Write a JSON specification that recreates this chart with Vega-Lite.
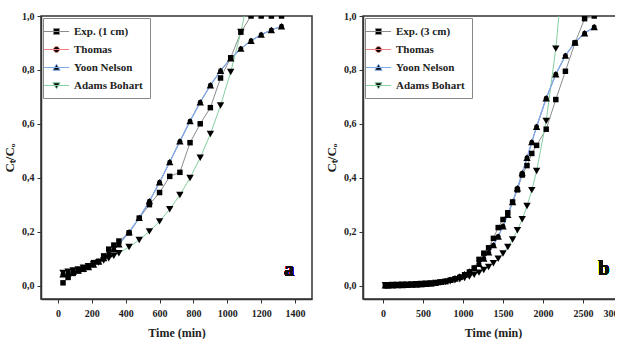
{
  "$schema": "https://vega.github.io/schema/vega-lite/v6.json",
  "background": "white",
  "padding": {"left": 2, "top": 10, "right": -10, "bottom": 0},
  "spacing": 11,
  "datasets": {
    "a": [
      {"t": 30, "v": 0.01, "s": "Exp. (1 cm)"}, {"t": 60, "v": 0.03, "s": "Exp. (1 cm)"}, {"t": 90, "v": 0.045, "s": "Exp. (1 cm)"}, {"t": 120, "v": 0.055, "s": "Exp. (1 cm)"}, {"t": 150, "v": 0.06, "s": "Exp. (1 cm)"}, {"t": 180, "v": 0.07, "s": "Exp. (1 cm)"}, {"t": 210, "v": 0.085, "s": "Exp. (1 cm)"}, {"t": 240, "v": 0.09, "s": "Exp. (1 cm)"}, {"t": 270, "v": 0.11, "s": "Exp. (1 cm)"}, {"t": 300, "v": 0.135, "s": "Exp. (1 cm)"}, {"t": 330, "v": 0.15, "s": "Exp. (1 cm)"}, {"t": 360, "v": 0.165, "s": "Exp. (1 cm)"}, {"t": 420, "v": 0.195, "s": "Exp. (1 cm)"}, {"t": 480, "v": 0.25, "s": "Exp. (1 cm)"}, {"t": 540, "v": 0.3, "s": "Exp. (1 cm)"}, {"t": 600, "v": 0.345, "s": "Exp. (1 cm)"}, {"t": 660, "v": 0.405, "s": "Exp. (1 cm)"}, {"t": 720, "v": 0.42, "s": "Exp. (1 cm)"}, {"t": 780, "v": 0.53, "s": "Exp. (1 cm)"}, {"t": 840, "v": 0.6, "s": "Exp. (1 cm)"}, {"t": 900, "v": 0.66, "s": "Exp. (1 cm)"}, {"t": 960, "v": 0.77, "s": "Exp. (1 cm)"}, {"t": 1020, "v": 0.845, "s": "Exp. (1 cm)"}, {"t": 1080, "v": 0.94, "s": "Exp. (1 cm)"}, {"t": 1140, "v": 1.0, "s": "Exp. (1 cm)"}, {"t": 1200, "v": 1.0, "s": "Exp. (1 cm)"}, {"t": 1260, "v": 1.0, "s": "Exp. (1 cm)"}, {"t": 1320, "v": 1.0, "s": "Exp. (1 cm)"},
      {"t": 30, "v": 0.042, "s": "Thomas"}, {"t": 60, "v": 0.046, "s": "Thomas"}, {"t": 90, "v": 0.051, "s": "Thomas"}, {"t": 120, "v": 0.056, "s": "Thomas"}, {"t": 150, "v": 0.062, "s": "Thomas"}, {"t": 180, "v": 0.069, "s": "Thomas"}, {"t": 210, "v": 0.078, "s": "Thomas"}, {"t": 240, "v": 0.089, "s": "Thomas"}, {"t": 270, "v": 0.102, "s": "Thomas"}, {"t": 300, "v": 0.117, "s": "Thomas"}, {"t": 330, "v": 0.134, "s": "Thomas"}, {"t": 360, "v": 0.153, "s": "Thomas"}, {"t": 420, "v": 0.198, "s": "Thomas"}, {"t": 480, "v": 0.251, "s": "Thomas"}, {"t": 540, "v": 0.313, "s": "Thomas"}, {"t": 600, "v": 0.383, "s": "Thomas"}, {"t": 660, "v": 0.458, "s": "Thomas"}, {"t": 720, "v": 0.535, "s": "Thomas"}, {"t": 780, "v": 0.61, "s": "Thomas"}, {"t": 840, "v": 0.68, "s": "Thomas"}, {"t": 900, "v": 0.743, "s": "Thomas"}, {"t": 960, "v": 0.797, "s": "Thomas"}, {"t": 1020, "v": 0.843, "s": "Thomas"}, {"t": 1080, "v": 0.879, "s": "Thomas"}, {"t": 1140, "v": 0.908, "s": "Thomas"}, {"t": 1200, "v": 0.931, "s": "Thomas"}, {"t": 1260, "v": 0.948, "s": "Thomas"}, {"t": 1320, "v": 0.962, "s": "Thomas"},
      {"t": 30, "v": 0.042, "s": "Yoon Nelson"}, {"t": 60, "v": 0.046, "s": "Yoon Nelson"}, {"t": 90, "v": 0.051, "s": "Yoon Nelson"}, {"t": 120, "v": 0.056, "s": "Yoon Nelson"}, {"t": 150, "v": 0.062, "s": "Yoon Nelson"}, {"t": 180, "v": 0.069, "s": "Yoon Nelson"}, {"t": 210, "v": 0.078, "s": "Yoon Nelson"}, {"t": 240, "v": 0.089, "s": "Yoon Nelson"}, {"t": 270, "v": 0.102, "s": "Yoon Nelson"}, {"t": 300, "v": 0.117, "s": "Yoon Nelson"}, {"t": 330, "v": 0.134, "s": "Yoon Nelson"}, {"t": 360, "v": 0.153, "s": "Yoon Nelson"}, {"t": 420, "v": 0.198, "s": "Yoon Nelson"}, {"t": 480, "v": 0.251, "s": "Yoon Nelson"}, {"t": 540, "v": 0.313, "s": "Yoon Nelson"}, {"t": 600, "v": 0.383, "s": "Yoon Nelson"}, {"t": 660, "v": 0.458, "s": "Yoon Nelson"}, {"t": 720, "v": 0.535, "s": "Yoon Nelson"}, {"t": 780, "v": 0.61, "s": "Yoon Nelson"}, {"t": 840, "v": 0.68, "s": "Yoon Nelson"}, {"t": 900, "v": 0.743, "s": "Yoon Nelson"}, {"t": 960, "v": 0.797, "s": "Yoon Nelson"}, {"t": 1020, "v": 0.843, "s": "Yoon Nelson"}, {"t": 1080, "v": 0.879, "s": "Yoon Nelson"}, {"t": 1140, "v": 0.908, "s": "Yoon Nelson"}, {"t": 1200, "v": 0.931, "s": "Yoon Nelson"}, {"t": 1260, "v": 0.948, "s": "Yoon Nelson"}, {"t": 1320, "v": 0.962, "s": "Yoon Nelson"},
      {"t": 30, "v": 0.047, "s": "Adams Bohart"}, {"t": 60, "v": 0.051, "s": "Adams Bohart"}, {"t": 90, "v": 0.0555, "s": "Adams Bohart"}, {"t": 120, "v": 0.06, "s": "Adams Bohart"}, {"t": 150, "v": 0.066, "s": "Adams Bohart"}, {"t": 180, "v": 0.072, "s": "Adams Bohart"}, {"t": 210, "v": 0.078, "s": "Adams Bohart"}, {"t": 240, "v": 0.085, "s": "Adams Bohart"}, {"t": 270, "v": 0.093, "s": "Adams Bohart"}, {"t": 300, "v": 0.101, "s": "Adams Bohart"}, {"t": 330, "v": 0.11, "s": "Adams Bohart"}, {"t": 360, "v": 0.12, "s": "Adams Bohart"}, {"t": 420, "v": 0.143, "s": "Adams Bohart"}, {"t": 480, "v": 0.169, "s": "Adams Bohart"}, {"t": 540, "v": 0.201, "s": "Adams Bohart"}, {"t": 600, "v": 0.238, "s": "Adams Bohart"}, {"t": 660, "v": 0.283, "s": "Adams Bohart"}, {"t": 720, "v": 0.336, "s": "Adams Bohart"}, {"t": 780, "v": 0.399, "s": "Adams Bohart"}, {"t": 840, "v": 0.474, "s": "Adams Bohart"}, {"t": 900, "v": 0.562, "s": "Adams Bohart"}, {"t": 960, "v": 0.668, "s": "Adams Bohart"}, {"t": 1020, "v": 0.792, "s": "Adams Bohart"}, {"t": 1080, "v": 0.941, "s": "Adams Bohart"}, {"t": 1140, "v": 1.116, "s": "Adams Bohart"}
    ],
    "b": [
      {"t": 30, "v": 0.0, "s": "Exp. (3 cm)"}, {"t": 60, "v": 0.0, "s": "Exp. (3 cm)"}, {"t": 120, "v": 0.001, "s": "Exp. (3 cm)"}, {"t": 180, "v": 0.001, "s": "Exp. (3 cm)"}, {"t": 240, "v": 0.002, "s": "Exp. (3 cm)"}, {"t": 300, "v": 0.002, "s": "Exp. (3 cm)"}, {"t": 360, "v": 0.003, "s": "Exp. (3 cm)"}, {"t": 420, "v": 0.003, "s": "Exp. (3 cm)"}, {"t": 480, "v": 0.004, "s": "Exp. (3 cm)"}, {"t": 540, "v": 0.005, "s": "Exp. (3 cm)"}, {"t": 600, "v": 0.007, "s": "Exp. (3 cm)"}, {"t": 660, "v": 0.009, "s": "Exp. (3 cm)"}, {"t": 720, "v": 0.012, "s": "Exp. (3 cm)"}, {"t": 780, "v": 0.015, "s": "Exp. (3 cm)"}, {"t": 840, "v": 0.02, "s": "Exp. (3 cm)"}, {"t": 900, "v": 0.025, "s": "Exp. (3 cm)"}, {"t": 960, "v": 0.03, "s": "Exp. (3 cm)"}, {"t": 1020, "v": 0.04, "s": "Exp. (3 cm)"}, {"t": 1080, "v": 0.05, "s": "Exp. (3 cm)"}, {"t": 1140, "v": 0.065, "s": "Exp. (3 cm)"}, {"t": 1200, "v": 0.097, "s": "Exp. (3 cm)"}, {"t": 1260, "v": 0.12, "s": "Exp. (3 cm)"}, {"t": 1320, "v": 0.14, "s": "Exp. (3 cm)"}, {"t": 1380, "v": 0.175, "s": "Exp. (3 cm)"}, {"t": 1440, "v": 0.215, "s": "Exp. (3 cm)"}, {"t": 1500, "v": 0.245, "s": "Exp. (3 cm)"}, {"t": 1560, "v": 0.27, "s": "Exp. (3 cm)"}, {"t": 1620, "v": 0.31, "s": "Exp. (3 cm)"}, {"t": 1680, "v": 0.355, "s": "Exp. (3 cm)"}, {"t": 1740, "v": 0.41, "s": "Exp. (3 cm)"}, {"t": 1800, "v": 0.445, "s": "Exp. (3 cm)"}, {"t": 1860, "v": 0.49, "s": "Exp. (3 cm)"}, {"t": 1920, "v": 0.52, "s": "Exp. (3 cm)"}, {"t": 2040, "v": 0.58, "s": "Exp. (3 cm)"}, {"t": 2160, "v": 0.69, "s": "Exp. (3 cm)"}, {"t": 2280, "v": 0.795, "s": "Exp. (3 cm)"}, {"t": 2400, "v": 0.9, "s": "Exp. (3 cm)"}, {"t": 2520, "v": 0.99, "s": "Exp. (3 cm)"}, {"t": 2640, "v": 1.0, "s": "Exp. (3 cm)"},
      {"t": 30, "v": 0.001, "s": "Thomas"}, {"t": 60, "v": 0.001, "s": "Thomas"}, {"t": 120, "v": 0.0013, "s": "Thomas"}, {"t": 180, "v": 0.0017, "s": "Thomas"}, {"t": 240, "v": 0.0021, "s": "Thomas"}, {"t": 300, "v": 0.0027, "s": "Thomas"}, {"t": 360, "v": 0.0034, "s": "Thomas"}, {"t": 420, "v": 0.0043, "s": "Thomas"}, {"t": 480, "v": 0.0054, "s": "Thomas"}, {"t": 540, "v": 0.0068, "s": "Thomas"}, {"t": 600, "v": 0.0085, "s": "Thomas"}, {"t": 660, "v": 0.0108, "s": "Thomas"}, {"t": 720, "v": 0.0135, "s": "Thomas"}, {"t": 780, "v": 0.017, "s": "Thomas"}, {"t": 840, "v": 0.0214, "s": "Thomas"}, {"t": 900, "v": 0.0268, "s": "Thomas"}, {"t": 960, "v": 0.0336, "s": "Thomas"}, {"t": 1020, "v": 0.042, "s": "Thomas"}, {"t": 1080, "v": 0.0524, "s": "Thomas"}, {"t": 1140, "v": 0.0652, "s": "Thomas"}, {"t": 1200, "v": 0.0809, "s": "Thomas"}, {"t": 1260, "v": 0.1, "s": "Thomas"}, {"t": 1320, "v": 0.123, "s": "Thomas"}, {"t": 1380, "v": 0.15, "s": "Thomas"}, {"t": 1440, "v": 0.182, "s": "Thomas"}, {"t": 1500, "v": 0.22, "s": "Thomas"}, {"t": 1560, "v": 0.262, "s": "Thomas"}, {"t": 1620, "v": 0.31, "s": "Thomas"}, {"t": 1680, "v": 0.361, "s": "Thomas"}, {"t": 1740, "v": 0.417, "s": "Thomas"}, {"t": 1800, "v": 0.474, "s": "Thomas"}, {"t": 1860, "v": 0.532, "s": "Thomas"}, {"t": 1920, "v": 0.589, "s": "Thomas"}, {"t": 2040, "v": 0.695, "s": "Thomas"}, {"t": 2160, "v": 0.784, "s": "Thomas"}, {"t": 2280, "v": 0.853, "s": "Thomas"}, {"t": 2400, "v": 0.902, "s": "Thomas"}, {"t": 2520, "v": 0.936, "s": "Thomas"}, {"t": 2640, "v": 0.959, "s": "Thomas"},
      {"t": 30, "v": 0.001, "s": "Yoon Nelson"}, {"t": 60, "v": 0.001, "s": "Yoon Nelson"}, {"t": 120, "v": 0.0013, "s": "Yoon Nelson"}, {"t": 180, "v": 0.0017, "s": "Yoon Nelson"}, {"t": 240, "v": 0.0021, "s": "Yoon Nelson"}, {"t": 300, "v": 0.0027, "s": "Yoon Nelson"}, {"t": 360, "v": 0.0034, "s": "Yoon Nelson"}, {"t": 420, "v": 0.0043, "s": "Yoon Nelson"}, {"t": 480, "v": 0.0054, "s": "Yoon Nelson"}, {"t": 540, "v": 0.0068, "s": "Yoon Nelson"}, {"t": 600, "v": 0.0085, "s": "Yoon Nelson"}, {"t": 660, "v": 0.0108, "s": "Yoon Nelson"}, {"t": 720, "v": 0.0135, "s": "Yoon Nelson"}, {"t": 780, "v": 0.017, "s": "Yoon Nelson"}, {"t": 840, "v": 0.0214, "s": "Yoon Nelson"}, {"t": 900, "v": 0.0268, "s": "Yoon Nelson"}, {"t": 960, "v": 0.0336, "s": "Yoon Nelson"}, {"t": 1020, "v": 0.042, "s": "Yoon Nelson"}, {"t": 1080, "v": 0.0524, "s": "Yoon Nelson"}, {"t": 1140, "v": 0.0652, "s": "Yoon Nelson"}, {"t": 1200, "v": 0.0809, "s": "Yoon Nelson"}, {"t": 1260, "v": 0.1, "s": "Yoon Nelson"}, {"t": 1320, "v": 0.123, "s": "Yoon Nelson"}, {"t": 1380, "v": 0.15, "s": "Yoon Nelson"}, {"t": 1440, "v": 0.182, "s": "Yoon Nelson"}, {"t": 1500, "v": 0.22, "s": "Yoon Nelson"}, {"t": 1560, "v": 0.262, "s": "Yoon Nelson"}, {"t": 1620, "v": 0.31, "s": "Yoon Nelson"}, {"t": 1680, "v": 0.361, "s": "Yoon Nelson"}, {"t": 1740, "v": 0.417, "s": "Yoon Nelson"}, {"t": 1800, "v": 0.474, "s": "Yoon Nelson"}, {"t": 1860, "v": 0.532, "s": "Yoon Nelson"}, {"t": 1920, "v": 0.589, "s": "Yoon Nelson"}, {"t": 2040, "v": 0.695, "s": "Yoon Nelson"}, {"t": 2160, "v": 0.784, "s": "Yoon Nelson"}, {"t": 2280, "v": 0.853, "s": "Yoon Nelson"}, {"t": 2400, "v": 0.902, "s": "Yoon Nelson"}, {"t": 2520, "v": 0.936, "s": "Yoon Nelson"}, {"t": 2640, "v": 0.959, "s": "Yoon Nelson"},
      {"t": 30, "v": 0.0014, "s": "Adams Bohart"}, {"t": 60, "v": 0.0015, "s": "Adams Bohart"}, {"t": 120, "v": 0.0018, "s": "Adams Bohart"}, {"t": 180, "v": 0.0022, "s": "Adams Bohart"}, {"t": 240, "v": 0.0026, "s": "Adams Bohart"}, {"t": 300, "v": 0.0031, "s": "Adams Bohart"}, {"t": 360, "v": 0.0038, "s": "Adams Bohart"}, {"t": 420, "v": 0.0045, "s": "Adams Bohart"}, {"t": 480, "v": 0.0054, "s": "Adams Bohart"}, {"t": 540, "v": 0.0065, "s": "Adams Bohart"}, {"t": 600, "v": 0.0078, "s": "Adams Bohart"}, {"t": 660, "v": 0.0093, "s": "Adams Bohart"}, {"t": 720, "v": 0.0112, "s": "Adams Bohart"}, {"t": 780, "v": 0.0134, "s": "Adams Bohart"}, {"t": 840, "v": 0.0161, "s": "Adams Bohart"}, {"t": 900, "v": 0.0193, "s": "Adams Bohart"}, {"t": 960, "v": 0.0232, "s": "Adams Bohart"}, {"t": 1020, "v": 0.0278, "s": "Adams Bohart"}, {"t": 1080, "v": 0.0333, "s": "Adams Bohart"}, {"t": 1140, "v": 0.04, "s": "Adams Bohart"}, {"t": 1200, "v": 0.0479, "s": "Adams Bohart"}, {"t": 1260, "v": 0.0575, "s": "Adams Bohart"}, {"t": 1320, "v": 0.069, "s": "Adams Bohart"}, {"t": 1380, "v": 0.0827, "s": "Adams Bohart"}, {"t": 1440, "v": 0.0992, "s": "Adams Bohart"}, {"t": 1500, "v": 0.119, "s": "Adams Bohart"}, {"t": 1560, "v": 0.1427, "s": "Adams Bohart"}, {"t": 1620, "v": 0.171, "s": "Adams Bohart"}, {"t": 1680, "v": 0.205, "s": "Adams Bohart"}, {"t": 1740, "v": 0.246, "s": "Adams Bohart"}, {"t": 1800, "v": 0.295, "s": "Adams Bohart"}, {"t": 1860, "v": 0.354, "s": "Adams Bohart"}, {"t": 1920, "v": 0.425, "s": "Adams Bohart"}, {"t": 2040, "v": 0.611, "s": "Adams Bohart"}, {"t": 2160, "v": 0.879, "s": "Adams Bohart"}, {"t": 2280, "v": 1.26, "s": "Adams Bohart"}
    ]
  },
  "hconcat": [
    {
      "width": 271,
      "height": 283,
      "data": {"name": "a"},
      "encoding": {
        "x": {"field": "t", "type": "quantitative", "scale": {"domain": [-100, 1500], "nice": false, "zero": false},
              "axis": {"title": "Time (min)", "values": [0, 200, 400, 600, 800, 1000, 1200, 1400], "format": "d"}},
        "y": {"field": "v", "type": "quantitative", "scale": {"domain": [-0.05, 1.0], "nice": false, "zero": false},
              "axis": {"title": "Cₜ/Cₒ", "values": [0, 0.2, 0.4, 0.6, 0.8, 1.0], "labelExpr": "replace(format(datum.value, '.1f'), '.', ',')"}}
      },
      "layer": [
        {
          "mark": {"type": "line", "clip": true, "strokeWidth": 1},
          "encoding": {
            "color": {"field": "s", "type": "nominal",
              "scale": {"domain": ["Exp. (1 cm)", "Thomas", "Yoon Nelson", "Adams Bohart"], "range": ["#8c8c8c", "#f08080", "#7faae8", "#86cfa0"]},
              "legend": {"title": null, "orient": "top-left", "offset": 2, "padding": 7, "strokeColor": "#888", "fillColor": "white",
                "symbolSize": 144, "symbolStrokeWidth": 1, "labelOffset": 11, "rowPadding": 6,
                "labelFont": "Liberation Serif", "labelFontWeight": "bold", "labelFontSize": 11, "labelColor": "#222",
                "symbolType": "M-2.1,0H2.1",
                "encode": {"symbols": {"update": {
                  "shape": {"signal": "indexof(datum.value, 'Exp') === 0 ? 'M-2.1,0H2.1M-0.5,-0.5H0.5V0.5H-0.5Z' : datum.value === 'Thomas' ? 'M-2.1,0H2.1M0.5,0A0.5,0.5,0,1,1,-0.5,0A0.5,0.5,0,1,1,0.5,0Z' : datum.value === 'Yoon Nelson' ? 'M-2.1,0H2.1M0,-0.55L0.6,0.45H-0.6Z' : 'M-2.1,0H2.1M0,0.55L0.6,-0.45H-0.6Z'"},
                  "fill": {"value": "black"}}}}}
            }
          }
        },
        {
          "transform": [{"filter": "datum.s === 'Yoon Nelson'"}],
          "mark": {"type": "line", "clip": true, "strokeWidth": 1.2, "color": "#7faae8"}
        },
        {
          "transform": [{"filter": "datum.s === 'Exp. (1 cm)'"}],
          "mark": {"type": "point", "shape": "square", "filled": true, "clip": true, "color": "black", "opacity": 1, "size": 30}
        },
        {
          "transform": [{"filter": "datum.s === 'Thomas'"}],
          "mark": {"type": "point", "shape": "circle", "filled": true, "clip": true, "color": "black", "opacity": 1, "size": 24}
        },
        {
          "transform": [{"filter": "datum.s === 'Yoon Nelson'"}],
          "mark": {"type": "point", "shape": "triangle-up", "filled": true, "clip": true, "color": "black", "opacity": 1, "size": 55}
        },
        {
          "transform": [{"filter": "datum.s === 'Adams Bohart'"}],
          "mark": {"type": "point", "shape": "triangle-down", "filled": true, "clip": true, "color": "black", "opacity": 1, "size": 55}
        },
        {
          "mark": {"type": "text", "font": "Liberation Serif", "fontWeight": "bold", "fontSize": 20, "color": "#111", "baseline": "middle", "align": "center"},
          "encoding": {
            "x": {"datum": 1366, "type": "quantitative"},
            "y": {"datum": 0.056, "type": "quantitative"},
            "text": {"value": "a"}
          }
        }
      ]
    },
    {
      "width": 260,
      "height": 283,
      "data": {"name": "b"},
      "encoding": {
        "x": {"field": "t", "type": "quantitative", "scale": {"domain": [-250, 3000], "nice": false, "zero": false},
              "axis": {"title": "Time (min)", "values": [0, 500, 1000, 1500, 2000, 2500, 3000], "format": "d"}},
        "y": {"field": "v", "type": "quantitative", "scale": {"domain": [-0.05, 1.0], "nice": false, "zero": false},
              "axis": {"title": "Cₜ/Cₒ", "values": [0, 0.2, 0.4, 0.6, 0.8, 1.0], "labelExpr": "replace(format(datum.value, '.1f'), '.', ',')"}}
      },
      "layer": [
        {
          "mark": {"type": "line", "clip": true, "strokeWidth": 1},
          "encoding": {
            "color": {"field": "s", "type": "nominal",
              "scale": {"domain": ["Exp. (3 cm)", "Thomas", "Yoon Nelson", "Adams Bohart"], "range": ["#8c8c8c", "#f08080", "#7faae8", "#86cfa0"]},
              "legend": {"title": null, "orient": "top-left", "offset": 2, "padding": 7, "strokeColor": "#888", "fillColor": "white",
                "symbolSize": 144, "symbolStrokeWidth": 1, "labelOffset": 11, "rowPadding": 6,
                "labelFont": "Liberation Serif", "labelFontWeight": "bold", "labelFontSize": 11, "labelColor": "#222",
                "symbolType": "M-2.1,0H2.1",
                "encode": {"symbols": {"update": {
                  "shape": {"signal": "indexof(datum.value, 'Exp') === 0 ? 'M-2.1,0H2.1M-0.5,-0.5H0.5V0.5H-0.5Z' : datum.value === 'Thomas' ? 'M-2.1,0H2.1M0.5,0A0.5,0.5,0,1,1,-0.5,0A0.5,0.5,0,1,1,0.5,0Z' : datum.value === 'Yoon Nelson' ? 'M-2.1,0H2.1M0,-0.55L0.6,0.45H-0.6Z' : 'M-2.1,0H2.1M0,0.55L0.6,-0.45H-0.6Z'"},
                  "fill": {"value": "black"}}}}}
            }
          }
        },
        {
          "transform": [{"filter": "datum.s === 'Yoon Nelson'"}],
          "mark": {"type": "line", "clip": true, "strokeWidth": 1.2, "color": "#7faae8"}
        },
        {
          "transform": [{"filter": "datum.s === 'Exp. (3 cm)'"}],
          "mark": {"type": "point", "shape": "square", "filled": true, "clip": true, "color": "black", "opacity": 1, "size": 30}
        },
        {
          "transform": [{"filter": "datum.s === 'Thomas'"}],
          "mark": {"type": "point", "shape": "circle", "filled": true, "clip": true, "color": "black", "opacity": 1, "size": 24}
        },
        {
          "transform": [{"filter": "datum.s === 'Yoon Nelson'"}],
          "mark": {"type": "point", "shape": "triangle-up", "filled": true, "clip": true, "color": "black", "opacity": 1, "size": 55}
        },
        {
          "transform": [{"filter": "datum.s === 'Adams Bohart'"}],
          "mark": {"type": "point", "shape": "triangle-down", "filled": true, "clip": true, "color": "black", "opacity": 1, "size": 55}
        },
        {
          "mark": {"type": "text", "font": "Liberation Serif", "fontWeight": "bold", "fontSize": 20, "color": "#111", "baseline": "middle", "align": "center"},
          "encoding": {
            "x": {"datum": 2759, "type": "quantitative"},
            "y": {"datum": 0.063, "type": "quantitative"},
            "text": {"value": "b"}
          }
        }
      ]
    }
  ],
  "resolve": {
    "scale": {"x": "independent", "y": "independent", "color": "independent"},
    "legend": {"color": "independent"}
  },
  "config": {
    "view": {"stroke": "#333", "strokeWidth": 1.5},
    "axis": {
      "grid": false,
      "labelFont": "Liberation Serif", "labelFontWeight": "bold", "labelFontSize": 10, "labelColor": "#222",
      "titleFont": "Liberation Serif", "titleFontWeight": "bold", "titleFontSize": 12, "titleColor": "#222",
      "domainColor": "#333", "domainWidth": 1.5, "tickColor": "#333", "tickSize": 4, "tickWidth": 1,
      "labelPadding": 3
    },
    "axisX": {"titlePadding": 9, "labelPadding": 5},
    "axisY": {"titleFontSize": 13, "titlePadding": 5}
  }
}
